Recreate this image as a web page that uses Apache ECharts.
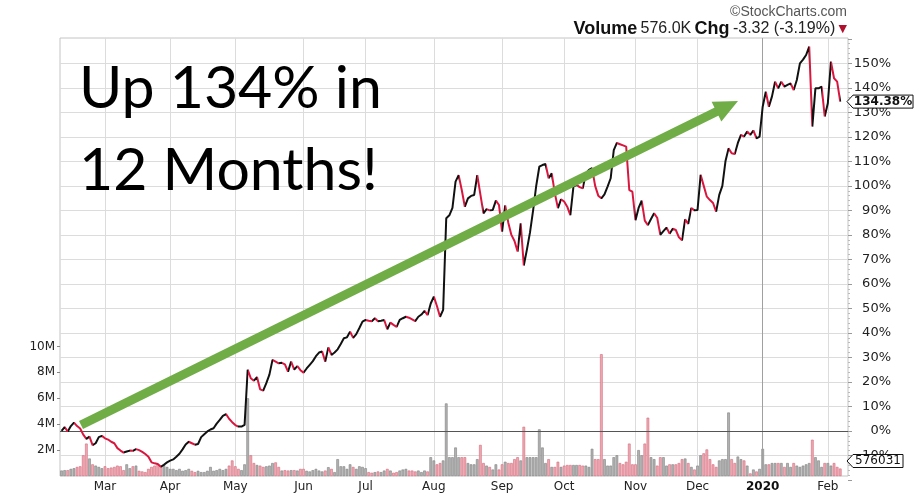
<!DOCTYPE html>
<html><head><meta charset="utf-8">
<script src="https://cdn.jsdelivr.net/npm/echarts@6/dist/echarts.min.js"></script>
<style>html,body{margin:0;padding:0;background:#fff}#c{width:916px;height:497px}</style>
</head><body><div id="c"></div>
<script>
// ---------- data ----------
const firstTradingDay = '2019-02-08';
const marketHolidays = ['2019-02-18','2019-04-19','2019-05-27','2019-07-04','2019-09-02','2019-11-28','2019-12-25','2020-01-01','2020-01-20'];
const emptyTrailingDays = 2;
const monthNames = ['Jan','Feb','Mar','Apr','May','Jun','Jul','Aug','Sep','Oct','Nov','Dec'];

// percent change since start (daily close)
const pctChange = [
  0.0, 1.6, -0.2, 2.0, 3.4, 2.0, 1.0, -1.5, -3.2, -2.3,
  -5.8, -5.0, -2.5, -2.0, -3.0, -3.5, -4.4, -5.0, -7.0, -8.0,
  -8.8, -8.4, -8.0, -8.1, -7.4, -7.8, -8.5, -9.4, -10.5, -12.8,
  -13.2, -13.5, -14.6, -13.8, -12.8, -12.1, -11.6, -10.5, -9.3, -7.5,
  -5.5, -4.4, -5.0, -5.6, -5.3, -2.5, -1.3, -0.2, 0.6, 1.1,
  3.0, 4.5, 6.2, 6.9, 5.0, 3.6, 2.4, 1.8, 1.8, 2.5,
  25.0, 21.5, 20.5, 22.0, 17.0, 16.5, 19.5, 23.0, 29.0, 28.3,
  27.6, 27.8, 27.2, 24.2, 28.3, 25.0, 26.5, 24.8, 23.8, 25.5,
  27.0, 28.5, 30.5, 32.0, 32.4, 28.3, 34.1, 31.0, 32.0, 33.3,
  35.5, 37.8, 38.2, 40.5, 38.0, 39.5, 42.0, 44.6, 45.3, 45.0,
  44.8, 46.0, 44.8, 45.0, 45.3, 41.5, 44.2, 43.3, 42.5, 45.3,
  46.0, 46.6, 46.2, 45.5, 44.8, 46.6, 47.5, 49.0, 47.3, 52.0,
  54.8, 51.0, 46.6, 49.4, 86.8, 88.0, 91.0, 101.7, 104.4, 98.3,
  91.5, 94.9, 95.9, 96.3, 104.4, 96.5, 88.8, 90.5, 90.0, 90.2,
  94.0, 92.2, 81.3, 92.0, 85.0, 80.0, 77.5, 73.2, 84.7, 67.5,
  74.0, 81.0, 90.0, 100.0, 107.8, 108.5, 108.9, 103.1, 105.1, 97.0,
  90.9, 94.5, 93.6, 91.5, 88.1, 99.7, 100.4, 99.5, 99.0, 105.1,
  106.5, 107.2, 100.0, 96.0, 94.9, 96.5, 99.7, 103.1, 114.6, 117.5,
  117.0, 116.5, 116.0, 98.3, 97.6, 86.0, 91.0, 94.0, 85.8, 84.0,
  86.5, 88.8, 87.0, 80.0, 81.5, 83.0, 80.5, 82.5, 82.0, 79.0,
  77.8, 86.3, 84.5, 91.0, 90.0, 90.2, 104.5, 100.0, 95.6, 94.2,
  93.0, 89.5, 96.3, 100.0, 110.0, 115.3, 113.3, 113.0, 117.5, 120.8,
  120.1, 122.2, 120.8, 122.6, 119.4, 120.1, 132.3, 138.4, 132.3, 136.5,
  142.5, 139.8, 142.5, 140.5, 141.2, 141.8, 139.1, 143.2, 150.0, 151.5,
  153.4, 156.8, 124.2, 139.8, 139.8, 140.5, 128.3, 133.7, 150.7, 143.9,
  142.5, 134.38
];

// daily volume, millions of shares
const volumeM = [
  0.42, 0.45, 0.45, 0.55, 0.6, 0.7, 0.75, 1.6, 2.5, 1.35,
  0.9, 0.8, 0.7, 0.6, 0.75, 0.6, 0.65, 0.7, 0.8, 0.75,
  0.45, 0.9, 0.6, 0.75, 0.8, 0.4, 0.35, 0.3, 0.55, 0.7,
  0.8, 0.9, 0.8, 0.9, 0.7, 0.55, 0.55, 0.45, 0.55, 0.4,
  0.45, 0.55, 0.4, 0.3, 0.4, 0.3, 0.3, 0.4, 0.7, 0.4,
  0.45, 0.55, 0.45, 0.55, 0.8, 1.2, 0.75, 0.55, 0.45, 0.9,
  6.0, 1.6, 1.0, 0.85, 0.8, 0.7, 0.75, 0.8, 1.0, 1.05,
  0.7, 0.42, 0.45, 0.42, 0.45, 0.45, 0.42, 0.55, 0.55, 0.4,
  0.35, 0.45, 0.55, 0.42, 0.35, 0.42, 0.68, 0.55, 0.3, 1.3,
  0.75, 0.75, 0.55, 0.9, 0.7, 0.55, 0.75, 0.7, 0.6, 0.3,
  0.25, 0.3, 0.35, 0.3, 0.42, 0.55, 0.42, 0.25, 0.3, 0.42,
  0.5, 0.55, 0.42, 0.42, 0.35, 0.42, 0.3, 0.42, 0.35, 1.45,
  1.2, 0.9, 1.0, 1.2, 5.6, 1.45, 1.45, 2.2, 1.45, 1.45,
  1.45, 1.0, 0.9, 0.9, 1.3, 2.4, 1.0, 0.8, 0.7, 0.5,
  0.9, 0.5, 0.9, 1.1, 1.0, 1.0, 1.3, 1.45, 1.2, 3.8,
  1.45, 1.45, 1.45, 1.45, 3.6, 2.2, 1.0, 1.3, 0.7, 0.7,
  1.1, 0.7, 0.8, 0.85, 0.85, 0.85, 0.85, 0.85, 0.8, 0.8,
  0.7, 2.1, 1.3, 1.3, 9.4, 1.3, 0.8, 0.8, 1.45, 1.6,
  1.0, 0.9, 1.1, 2.5, 0.9, 0.9, 2.0, 1.6, 2.5, 4.5,
  1.45, 1.3, 0.8, 1.45, 1.45, 0.8, 0.9, 0.9, 0.9, 1.0,
  1.3, 1.35, 1.0, 0.7, 0.5, 0.8, 1.6, 1.75, 2.05, 1.3,
  0.9, 0.7, 1.2, 1.3, 1.3, 4.9, 1.3, 1.0, 1.5, 1.3,
  1.2, 0.8, 0.2, 0.5, 0.35, 0.55, 2.1, 0.9, 0.9, 1.0,
  1.0, 1.0, 1.0, 0.7, 1.0, 0.7, 1.0, 0.8, 0.7, 0.8,
  0.9, 1.0, 2.8, 1.45, 1.2, 0.7, 1.0, 1.0, 0.8, 1.0,
  0.7, 0.576031
];

const volumeTickLabels = [2, 4, 6, 8, 10];
const lastPctText = '134.38%';
const lastVolumeText = '576031';
const headerVolume = '576.0K';
const headerChg = '-3.32 (-3.19%)';
const headline = ['Up 134% in', '12 Months!'];

// ---------- build ----------
function tradingDays(start, count, holidays) {
  const out = [];
  const hs = new Set(holidays);
  const d = new Date(start + 'T00:00:00Z');
  while (out.length < count) {
    const wd = d.getUTCDay();
    const s = d.toISOString().slice(0, 10);
    if (wd !== 0 && wd !== 6 && !hs.has(s)) out.push(s);
    d.setUTCDate(d.getUTCDate() + 1);
  }
  return out;
}
const dates = tradingDays(firstTradingDay, pctChange.length + emptyTrailingDays, marketHolidays);
const monthStart = new Set();
for (let i = 1; i < dates.length; i++) {
  if (dates[i].slice(5, 7) !== dates[i - 1].slice(5, 7)) monthStart.add(i);
}
let yearStartIdx = -1;
for (const i of monthStart) if (dates[i].slice(5, 7) === '01') yearStartIdx = i;

const RED = '#d8163e', BLACK = '#111111';
const down = pctChange.map((v, i) => i > 0 && v < pctChange[i - 1]);

const pieces = [];
for (let i = 1; i < pctChange.length; i++) {
  const c = down[i] ? RED : BLACK;
  const last = pieces[pieces.length - 1];
  if (last && last.color === c) last.lte = i;
  else pieces.push({ gt: i - 1, lte: i, color: c });
}

const volItems = volumeM.map((v, i) => ({
  value: v,
  itemStyle: down[i]
    ? { color: '#f0aab4', borderColor: '#d26878', borderWidth: 0.6 }
    : { color: '#b2b2b2', borderColor: '#7f7f7f', borderWidth: 0.6 }
}));

const AX_FONT = 'DejaVu Sans';
const HDR_FONT = '"Liberation Sans Narrow", "Liberation Sans"';
const chart = echarts.init(document.getElementById('c'), null, { renderer: 'canvas' });

const option = {
  animation: false,
  backgroundColor: '#ffffff',
  grid: [
    { left: 60, right: 68, top: 38, bottom: 21, show: true, borderColor: '#c4c4c4', borderWidth: 1, backgroundColor: 'transparent' },
    { left: 60, right: 68, top: 38.8, bottom: 17, show: false }
  ],
  xAxis: [
    {
      type: 'category', gridIndex: 0, data: dates, boundaryGap: true,
      axisLine: { show: false }, axisTick: { show: false },
      axisLabel: {
        interval: (i) => monthStart.has(i), margin: 5,
        fontFamily: AX_FONT, fontSize: 12, color: '#222',
        formatter: (v) => {
          const m = +v.slice(5, 7);
          return m === 1 ? '{y|' + v.slice(0, 4) + '}' : monthNames[m - 1];
        },
        rich: { y: { fontFamily: AX_FONT, fontSize: 12, fontWeight: 'bold', color: '#111' } }
      },
      splitLine: { show: true, interval: (i) => monthStart.has(i), alignWithLabel: true, lineStyle: { color: '#dcdcdc', width: 1 } }
    },
    {
      type: 'category', gridIndex: 1, data: dates, boundaryGap: true, show: false
    }
  ],
  yAxis: [
    {
      type: 'value', gridIndex: 0, position: 'left', min: 0, max: 33.8, interval: 2,
      axisLine: { show: false },
      axisTick: { show: true, customValues: volumeTickLabels, length: 3, lineStyle: { color: '#888' } },
      axisLabel: { customValues: volumeTickLabels, formatter: (v) => v + 'M', fontFamily: AX_FONT, fontSize: 12, color: '#222', margin: 5 },
      splitLine: { show: false }
    },
    {
      type: 'value', gridIndex: 1, position: 'right', min: -20, max: 160, interval: 10,
      axisLine: { show: false },
      axisTick: { show: true, length: 4, lineStyle: { color: '#999' } },
      minorTick: { show: true, splitNumber: 5, length: 2, lineStyle: { color: '#bbb' } },
      axisLabel: {
        formatter: (v) => (v >= -10 && v <= 150) ? v + '%' : '',
        fontFamily: AX_FONT, fontSize: 13, color: '#222', margin: 43, align: 'right'
      },
      splitLine: { show: true, showMinLine: false, showMaxLine: false, lineStyle: { color: '#dcdcdc', width: 1 } }
    }
  ],
  visualMap: {
    show: false, type: 'piecewise', seriesIndex: 1, dimension: 0,
    pieces: pieces, outOfRange: { color: BLACK }
  },
  series: [
    {
      type: 'bar', xAxisIndex: 0, yAxisIndex: 0, data: volItems, barCategoryGap: '15%',
      markLine: {
        silent: true, symbol: 'none', label: { show: false },
        lineStyle: { color: '#a0a0a0', width: 1, type: 'solid' },
        data: [{ xAxis: dates[yearStartIdx] }]
      }
    },
    {
      type: 'line', xAxisIndex: 1, yAxisIndex: 1, data: pctChange, showSymbol: false,
      lineStyle: { width: 2 }, z: 5,
      markLine: {
        silent: true, symbol: 'none', label: { show: false },
        lineStyle: { color: '#555', width: 1, type: 'solid' },
        data: [{ yAxis: 0 }]
      }
    }
  ]
};
chart.setOption(option);

// ---------- annotations ----------
const lastIdx = pctChange.length - 1;
const pctY = chart.convertToPixel({ yAxisIndex: 1 }, pctChange[lastIdx]);
const plotRight = 848, plotBottom = 476;
const volYraw = chart.convertToPixel({ yAxisIndex: 0 }, volumeM[lastIdx]);
const volY = Math.min(volYraw, plotBottom - 15);

function valueBox(cy, text, bold, w) {
  const x0 = plotRight - 1, h = 13;
  return [
    { type: 'polygon', z: 100, shape: { points: [[x0, cy], [x0 + 6, cy - h / 2], [x0 + w, cy - h / 2], [x0 + w, cy + h / 2], [x0 + 6, cy + h / 2]] },
      style: { fill: '#fff', stroke: '#111', lineWidth: 1 } },
    { type: 'text', z: 101, style: { text: text, x: x0 + 6 + (w - 6) / 2, y: cy, align: 'center', verticalAlign: 'middle',
      font: (bold ? 'bold ' : '') + '12px "DejaVu Sans"', fill: '#111' } }
  ];
}

// arrow geometry (annotation)
const tail = [81, 425], tip = [738, 101];
const dx = tip[0] - tail[0], dy = tip[1] - tail[1], L = Math.hypot(dx, dy);
const ux = dx / L, uy = dy / L, nx = -uy, ny = ux;
const headLen = 24, headHalf = 11;
const base = [tip[0] - ux * headLen, tip[1] - uy * headLen];

chart.setOption({
  graphic: [
    { type: 'text', x: 847, y: 12, style: { text: '\u00A9StockCharts.com', x: 0, y: 0, align: 'right', verticalAlign: 'middle', font: '14px ' + HDR_FONT, fill: '#555' } },
    { type: 'text', z: 50, x: 847, y: 29, style: {
        text: '{b|Volume} {n|' + headerVolume + '} {b|Chg} {n|' + headerChg + '} {r|\u25BC}',
        x: 0, y: 0, align: 'right', verticalAlign: 'middle',
        rich: {
          b: { font: 'bold 18px ' + HDR_FONT, fill: '#111' },
          n: { font: '16px ' + HDR_FONT, fill: '#222' },
          r: { font: '11px "DejaVu Sans"', fill: '#b0102e' }
        }
      } },
    { type: 'line', z: 60, shape: { x1: tail[0], y1: tail[1], x2: base[0] + ux * 2, y2: base[1] + uy * 2 },
      style: { stroke: '#70ad47', lineWidth: 9, lineCap: 'butt' } },
    { type: 'polygon', z: 60, shape: { points: [tip, [base[0] + nx * headHalf, base[1] + ny * headHalf], [base[0] - nx * headHalf, base[1] - ny * headHalf]] },
      style: { fill: '#70ad47' } },
    { type: 'text', z: 70, style: { text: headline[0], x: 79, y: 89, verticalAlign: 'middle', font: '59px Lato', fill: '#000' } },
    { type: 'text', z: 70, style: { text: headline[1], x: 79, y: 171, verticalAlign: 'middle', font: '59px Lato', fill: '#000' } },
    ...valueBox(pctY, lastPctText, true, 66),
    ...valueBox(volY, lastVolumeText, false, 56)
  ]
});
</script>
</body></html>
